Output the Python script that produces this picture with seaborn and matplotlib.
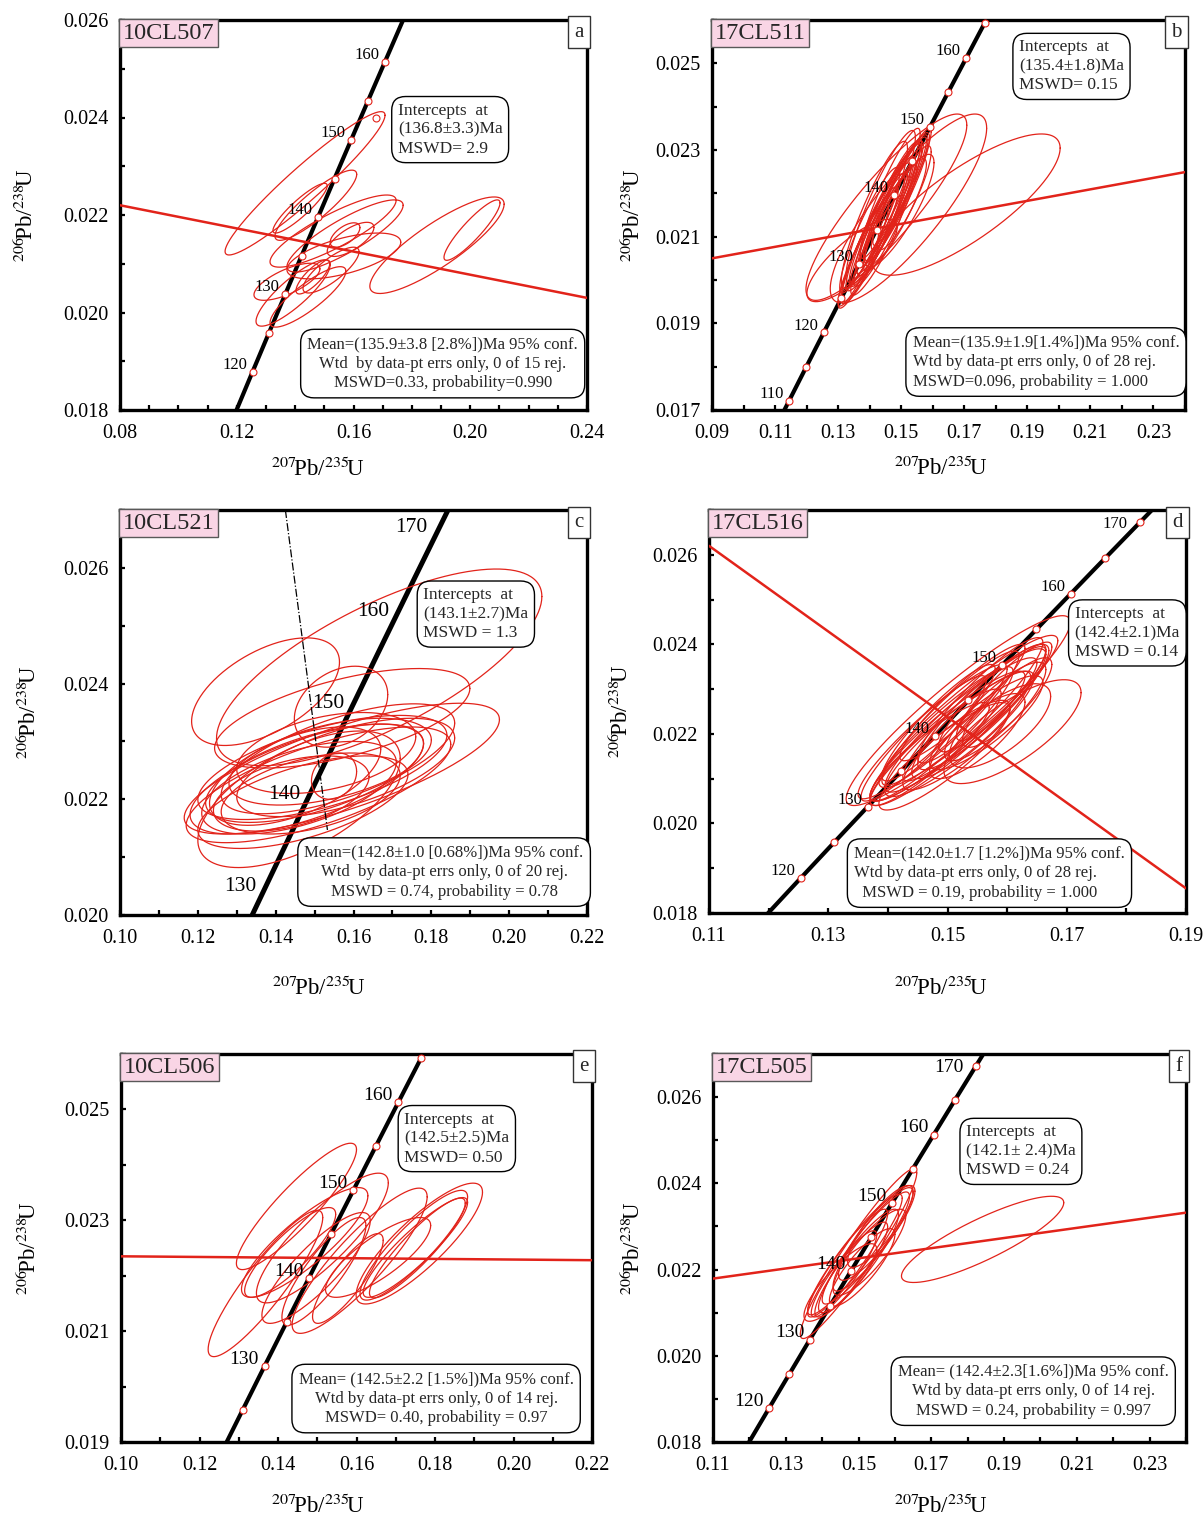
import numpy as np
import matplotlib
matplotlib.use("Agg")
import matplotlib.pyplot as plt
import seaborn as sns
from matplotlib.ticker import MultipleLocator, FixedLocator, FormatStrFormatter

sns.set_theme(style="ticks")
plt.rcParams['font.family'] = ['Liberation Serif', 'DejaVu Serif']
plt.rcParams['mathtext.fontset'] = 'stix'

RED = '#e2231a'
PINK = '#f9d5e5'

# decay constants (1/yr) for the concordia curve
L238 = 1.55125e-10
L235 = 9.8485e-10

# ---------------- data ----------------
SAMPLES = ['10CL507', '17CL511', '10CL521', '17CL516', '10CL506', '17CL505']
LETTERS = ['a', 'b', 'c', 'd', 'e', 'f']

XLIM = [(0.08, 0.24), (0.09, 0.24), (0.10, 0.22), (0.11, 0.19), (0.10, 0.22), (0.11, 0.24)]
YLIM = [(0.018, 0.026), (0.017, 0.026), (0.020, 0.027), (0.018, 0.027), (0.019, 0.026), (0.018, 0.027)]
XTICKS = [[0.08, 0.12, 0.16, 0.20, 0.24],
          [0.09, 0.11, 0.13, 0.15, 0.17, 0.19, 0.21, 0.23],
          [0.10, 0.12, 0.14, 0.16, 0.18, 0.20, 0.22],
          [0.11, 0.13, 0.15, 0.17, 0.19],
          [0.10, 0.12, 0.14, 0.16, 0.18, 0.20, 0.22],
          [0.11, 0.13, 0.15, 0.17, 0.19, 0.21, 0.23]]
YTICKS = [[0.018, 0.020, 0.022, 0.024, 0.026],
          [0.017, 0.019, 0.021, 0.023, 0.025],
          [0.020, 0.022, 0.024, 0.026],
          [0.018, 0.020, 0.022, 0.024, 0.026],
          [0.019, 0.021, 0.023, 0.025],
          [0.018, 0.020, 0.022, 0.024, 0.026]]

# concordia tick ages (Ma): circles and labels
MARK_AGES = [list(range(120, 161, 5)), list(range(110, 166, 5)), [],
             list(range(120, 171, 5)), list(range(125, 166, 5)), list(range(120, 171, 5))]
LABEL_AGES = [[120, 130, 140, 150, 160], [110, 120, 130, 140, 150, 160],
              [130, 140, 150, 160, 170], [120, 130, 140, 150, 160, 170],
              [130, 140, 150, 160], [120, 130, 140, 150, 160, 170]]

# discordia / regression lines (None = not drawn)
REG_X = [[0.08, 0.24], [0.09, 0.24], None, [0.11, 0.19], [0.10, 0.22], [0.11, 0.24]]
REG_Y = [[0.0222, 0.0203], [0.0205, 0.02249], None, [0.0262, 0.01855], [0.02235, 0.02228], [0.02179, 0.02332]]

# dash-dot line in panel c
DASH_C_X = [0.1425, 0.1533]
DASH_C_Y = [0.0270, 0.02147]

# error ellipses: (x centre, y centre, x half-extent, y half-extent, correlation)
ELL_A = [(0.1434, 0.02265, 0.0274, 0.00147, 0.95), (0.1417, 0.02214, 0.0093, 0.00051, 0.90),
         (0.1471, 0.02220, 0.0140, 0.00072, 0.88), (0.1530, 0.02167, 0.0216, 0.00074, 0.85),
         (0.1571, 0.02157, 0.0199, 0.00074, 0.85), (0.1567, 0.02116, 0.0195, 0.00047, 0.60),
         (0.1571, 0.02159, 0.0051, 0.00025, 0.60), (0.1590, 0.02150, 0.0080, 0.00035, 0.70),
         (0.1393, 0.02040, 0.0127, 0.00068, 0.85), (0.1372, 0.02063, 0.0113, 0.00038, 0.70),
         (0.1444, 0.02032, 0.0130, 0.00062, 0.85), (0.1461, 0.02073, 0.0058, 0.00035, 0.80),
         (0.1523, 0.02087, 0.0096, 0.00047, 0.80), (0.1886, 0.02138, 0.0230, 0.00099, 0.85),
         (0.2006, 0.02169, 0.0096, 0.00062, 0.90)]
ELL_B = [(0.1706, 0.02174, 0.0298, 0.00163, 0.80), (0.1453, 0.02168, 0.0255, 0.00215, 0.88),
         (0.1523, 0.02165, 0.0248, 0.00218, 0.85), (0.1344, 0.02045, 0.0143, 0.00095, 0.80),
         (0.1494, 0.02160, 0.0110, 0.00130, 0.85),
         (0.1380, 0.02060, 0.0080, 0.00120, 0.92), (0.1395, 0.02075, 0.0095, 0.00140, 0.93),
         (0.1410, 0.02095, 0.0100, 0.00150, 0.92), (0.1420, 0.02110, 0.0110, 0.00160, 0.93),
         (0.1430, 0.02120, 0.0090, 0.00130, 0.94), (0.1440, 0.02135, 0.0105, 0.00150, 0.92),
         (0.1445, 0.02145, 0.0120, 0.00170, 0.93), (0.1455, 0.02155, 0.0085, 0.00125, 0.94),
         (0.1460, 0.02165, 0.0100, 0.00155, 0.92), (0.1470, 0.02175, 0.0115, 0.00160, 0.93),
         (0.1475, 0.02185, 0.0090, 0.00140, 0.95), (0.1485, 0.02190, 0.0105, 0.00150, 0.92),
         (0.1490, 0.02200, 0.0080, 0.00120, 0.93), (0.1500, 0.02210, 0.0095, 0.00140, 0.94),
         (0.1505, 0.02220, 0.0075, 0.00110, 0.92), (0.1415, 0.02150, 0.0105, 0.00170, 0.90),
         (0.1435, 0.02170, 0.0110, 0.00175, 0.91), (0.1450, 0.02125, 0.0100, 0.00140, 0.93),
         (0.1400, 0.02115, 0.0095, 0.00145, 0.91), (0.1465, 0.02200, 0.0095, 0.00150, 0.92),
         (0.1480, 0.02150, 0.0100, 0.00130, 0.90), (0.1425, 0.02080, 0.0085, 0.00115, 0.90),
         (0.1510, 0.02190, 0.0085, 0.00120, 0.88)]
ELL_C = [(0.1666, 0.02428, 0.0418, 0.00170, 0.72), (0.1374, 0.02386, 0.0190, 0.00093, 0.55),
         (0.1568, 0.02360, 0.0120, 0.00070, 0.30), (0.1571, 0.02340, 0.0328, 0.00086, 0.60),
         (0.1570, 0.02253, 0.0405, 0.00113, 0.75), (0.1460, 0.02200, 0.0260, 0.00118, 0.60),
         (0.1550, 0.02240, 0.0058, 0.00040, 0.20),
         (0.1480, 0.02235, 0.0300, 0.00095, 0.65), (0.1500, 0.02245, 0.0280, 0.00085, 0.60),
         (0.1520, 0.02255, 0.0320, 0.00090, 0.62), (0.1460, 0.02220, 0.0250, 0.00080, 0.55),
         (0.1540, 0.02265, 0.0260, 0.00075, 0.50), (0.1490, 0.02210, 0.0230, 0.00070, 0.45),
         (0.1450, 0.02240, 0.0220, 0.00085, 0.55), (0.1560, 0.02270, 0.0300, 0.00095, 0.65),
         (0.1510, 0.02225, 0.0340, 0.00100, 0.70), (0.1470, 0.02195, 0.0270, 0.00080, 0.60),
         (0.1530, 0.02280, 0.0230, 0.00070, 0.40), (0.1440, 0.02210, 0.0200, 0.00065, 0.45),
         (0.1580, 0.02255, 0.0280, 0.00085, 0.60)]
ELL_D = [(0.1518, 0.02252, 0.0188, 0.00212, 0.93), (0.1609, 0.02205, 0.0115, 0.00116, 0.75),
         (0.1588, 0.02218, 0.0085, 0.00094, 0.70),
         (0.1480, 0.02170, 0.0110, 0.00130, 0.92), (0.1500, 0.02190, 0.0130, 0.00150, 0.92),
         (0.1510, 0.02210, 0.0140, 0.00160, 0.93), (0.1530, 0.02230, 0.0135, 0.00160, 0.92),
         (0.1545, 0.02245, 0.0120, 0.00150, 0.93), (0.1560, 0.02260, 0.0110, 0.00140, 0.90),
         (0.1470, 0.02160, 0.0100, 0.00110, 0.90), (0.1490, 0.02200, 0.0120, 0.00150, 0.93),
         (0.1520, 0.02200, 0.0125, 0.00140, 0.90), (0.1540, 0.02220, 0.0100, 0.00120, 0.88),
         (0.1555, 0.02275, 0.0105, 0.00140, 0.92), (0.1575, 0.02280, 0.0090, 0.00120, 0.90),
         (0.1505, 0.02235, 0.0115, 0.00150, 0.93), (0.1460, 0.02190, 0.0105, 0.00140, 0.93),
         (0.1535, 0.02250, 0.0150, 0.00170, 0.93), (0.1580, 0.02250, 0.0085, 0.00110, 0.85),
         (0.1565, 0.02225, 0.0095, 0.00105, 0.85), (0.1495, 0.02150, 0.0110, 0.00120, 0.88),
         (0.1525, 0.02270, 0.0105, 0.00130, 0.93), (0.1485, 0.02225, 0.0095, 0.00130, 0.92),
         (0.1595, 0.02295, 0.0080, 0.00110, 0.90), (0.1550, 0.02195, 0.0080, 0.00095, 0.80),
         (0.1515, 0.02175, 0.0090, 0.00100, 0.85), (0.1600, 0.02270, 0.0075, 0.00100, 0.85),
         (0.1475, 0.02205, 0.0125, 0.00150, 0.93)]
ELL_E = [(0.1447, 0.02325, 0.0153, 0.00114, 0.90), (0.1368, 0.02186, 0.0146, 0.00132, 0.90),
         (0.1468, 0.02260, 0.0161, 0.00099, 0.85), (0.1513, 0.02268, 0.0168, 0.00117, 0.85),
         (0.1497, 0.02214, 0.0138, 0.00100, 0.85), (0.1608, 0.02227, 0.0172, 0.00131, 0.88),
         (0.1578, 0.02195, 0.0090, 0.00081, 0.85), (0.1517, 0.02208, 0.0107, 0.00097, 0.85),
         (0.1760, 0.02258, 0.0161, 0.00109, 0.85), (0.1746, 0.02255, 0.0137, 0.00099, 0.88),
         (0.1750, 0.02251, 0.0133, 0.00090, 0.90), (0.1755, 0.02250, 0.0122, 0.00090, 0.90),
         (0.1655, 0.02233, 0.0134, 0.00072, 0.80), (0.1431, 0.02242, 0.0116, 0.00081, 0.85)]
ELL_F = [(0.1500, 0.02237, 0.0160, 0.00197, 0.95), (0.1841, 0.02270, 0.0223, 0.00100, 0.85),
         (0.1480, 0.02200, 0.0100, 0.00110, 0.90), (0.1500, 0.02220, 0.0110, 0.00120, 0.90),
         (0.1520, 0.02250, 0.0120, 0.00130, 0.92), (0.1540, 0.02270, 0.0110, 0.00120, 0.90),
         (0.1550, 0.02285, 0.0105, 0.00110, 0.88), (0.1460, 0.02190, 0.0090, 0.00100, 0.90),
         (0.1450, 0.02170, 0.0100, 0.00090, 0.85), (0.1490, 0.02235, 0.0130, 0.00140, 0.93),
         (0.1530, 0.02240, 0.0100, 0.00100, 0.85), (0.1560, 0.02300, 0.0090, 0.00095, 0.85),
         (0.1470, 0.02215, 0.0110, 0.00125, 0.92), (0.1510, 0.02205, 0.0090, 0.00090, 0.85)]
ELLIPSES = [ELL_A, ELL_B, ELL_C, ELL_D, ELL_E, ELL_F]

INTERCEPT_TXT = ['Intercepts  at\n(136.8±3.3)Ma\nMSWD= 2.9',
                 'Intercepts  at\n(135.4±1.8)Ma\nMSWD= 0.15',
                 'Intercepts  at\n(143.1±2.7)Ma\nMSWD = 1.3',
                 'Intercepts  at\n(142.4±2.1)Ma\nMSWD = 0.14',
                 'Intercepts  at\n(142.5±2.5)Ma\nMSWD= 0.50',
                 'Intercepts  at\n(142.1± 2.4)Ma\nMSWD = 0.24']
MEAN_TXT = ['Mean=(135.9±3.8 [2.8%])Ma 95% conf.\nWtd  by data-pt errs only, 0 of 15 rej.\nMSWD=0.33, probability=0.990',
            'Mean=(135.9±1.9[1.4%])Ma 95% conf.\nWtd by data-pt errs only, 0 of 28 rej.\nMSWD=0.096, probability = 1.000',
            'Mean=(142.8±1.0 [0.68%])Ma 95% conf.\nWtd  by data-pt errs only, 0 of 20 rej.\nMSWD = 0.74, probability = 0.78',
            'Mean=(142.0±1.7 [1.2%])Ma 95% conf.\nWtd by data-pt errs only, 0 of 28 rej.\n  MSWD = 0.19, probability = 1.000',
            'Mean= (142.5±2.2 [1.5%])Ma 95% conf.\nWtd by data-pt errs only, 0 of 14 rej.\nMSWD= 0.40, probability = 0.97',
            'Mean= (142.4±2.3[1.6%])Ma 95% conf.\nWtd by data-pt errs only, 0 of 14 rej.\nMSWD = 0.24, probability = 0.997']
MEAN_ALIGN = ['center', 'left', 'center', 'left', 'center', 'center']

# ---------------- layout (figure pixels -> fractions) ----------------
W, H = 1204, 1517
AX_PX = [(120, 20, 587, 410), (712, 20, 1185, 410), (120, 510, 587, 915),
         (709, 510, 1186, 913), (121, 1054, 592, 1442), (713, 1054, 1186, 1442)]
INT_POS = [(0.707, 0.719), (0.760, 0.881), (0.762, 0.743), (0.877, 0.695), (0.713, 0.782), (0.651, 0.749)]
MEAN_POS = [(0.691, 0.119), (0.706, 0.123), (0.694, 0.106), (0.588, 0.099), (0.669, 0.112), (0.677, 0.131)]
YLAB_X = [-0.175, -0.142, -0.169, -0.159, -0.170, -0.144]
XLAB_POS = [(0.424, -0.120), (0.484, -0.118), (0.426, -0.152), (0.486, -0.157), (0.418, -0.135), (0.482, -0.135)]
AGE_FS = [12, 12, 15.5, 12, 14, 14]
TOP_SHIFT = [False, False, True, True, False, True]   # top age label sits level with its tick


def concordia(age_ma):
    t = np.asarray(age_ma, float) * 1e6
    return np.exp(L235 * t) - 1, np.exp(L238 * t) - 1


def ellipse(cx, cy, sx, sy, rho, n=240):
    t = np.linspace(0, 2 * np.pi, n)
    x = cx + sx * np.cos(t)
    y = cy + sy * (rho * np.cos(t) + np.sqrt(1 - rho ** 2) * np.sin(t))
    return x, y


fig = plt.figure(figsize=(W / 100, H / 100), dpi=100)

for i in range(6):
    l, t, r, b = AX_PX[i]
    ax = fig.add_axes([l / W, 1 - b / H, (r - l) / W, (b - t) / H])

    # concordia curve
    cx, cy = concordia(np.linspace(90, 200, 300))
    sns.lineplot(x=cx, y=cy, sort=False, color='black', lw=3.6 if i == 2 else 3.0, ax=ax, zorder=2)

    # error ellipses
    for e in ELLIPSES[i]:
        ex, ey = ellipse(*e)
        ax.plot(ex, ey, color=RED, lw=0.9, zorder=3)

    # discordia line
    if REG_X[i] is not None:
        sns.lineplot(x=REG_X[i], y=REG_Y[i], color=RED, lw=1.8, ax=ax, zorder=4)

    if i == 2:
        ax.plot(DASH_C_X, DASH_C_Y, color='black', lw=0.9, ls='-.', zorder=4)

    # age markers and labels
    if MARK_AGES[i]:
        mx, my = concordia(MARK_AGES[i])
        ax.plot(mx, my, 'o', ms=5, mfc='white', mec=RED, mew=0.8, zorder=5, clip_on=False)
    if i == 0:
        ax.plot([0.1677], [0.0240], 'o', ms=5, mfc='white', mec=RED, mew=0.8, zorder=5)
    lx, ly = concordia(LABEL_AGES[i])
    n_lab = len(LABEL_AGES[i])
    for k, (age, x0, y0) in enumerate(zip(LABEL_AGES[i], lx, ly)):
        off = (-9, -1) if (TOP_SHIFT[i] and k == n_lab - 1) else (-4, 5)
        ax.annotate(str(age), (x0, y0), xytext=off, textcoords='offset points',
                    ha='right', va='center', fontsize=AGE_FS[i], color='black', zorder=6)

    ax.set_xlim(*XLIM[i])
    ax.set_ylim(*YLIM[i])
    ax.xaxis.set_major_locator(FixedLocator(XTICKS[i]))
    ax.yaxis.set_major_locator(FixedLocator(YTICKS[i]))
    ax.xaxis.set_minor_locator(MultipleLocator(0.01))
    ax.yaxis.set_minor_locator(MultipleLocator(0.001))
    ax.xaxis.set_major_formatter(FormatStrFormatter('%.2f'))
    ax.yaxis.set_major_formatter(FormatStrFormatter('%.3f'))
    ax.tick_params(which='both', direction='in', length=3.5, width=1.6, color='black',
                   labelsize=14.5, labelcolor='black')
    ax.tick_params(axis='x', pad=10)
    ax.tick_params(axis='y', pad=8)
    for s in ax.spines.values():
        s.set_linewidth(2.4)
        s.set_color('black')
        s.set_visible(True)

    ax.set_xlabel(r'$^{207}\!$Pb/$^{235}\!$U', fontsize=16.5, color='black')
    ax.set_ylabel(r'$^{206}\!$Pb/$^{238}\!$U', fontsize=16.5, color='black')
    ax.xaxis.set_label_coords(*XLAB_POS[i])
    ax.yaxis.set_label_coords(YLAB_X[i], 0.5)

    # sample name and panel letter
    ax.text(0.006, 0.993, SAMPLES[i], transform=ax.transAxes, ha='left', va='top', fontsize=17.5,
            zorder=7, bbox=dict(boxstyle='square,pad=0.15', fc=PINK, ec='0.35', lw=1.0))
    ax.text(0.993, 0.993, LETTERS[i], transform=ax.transAxes, ha='right', va='top', fontsize=15,
            zorder=7, bbox=dict(boxstyle='square,pad=0.3', fc='white', ec='0.2', lw=1.0))

    # result boxes
    ax.text(*INT_POS[i], INTERCEPT_TXT[i], transform=ax.transAxes, ha='center', va='center',
            multialignment='left', fontsize=12.5, linespacing=1.25, zorder=7,
            bbox=dict(boxstyle='round,pad=0.35,rounding_size=0.8', fc='white', ec='black', lw=1.0))
    ax.text(*MEAN_POS[i], MEAN_TXT[i], transform=ax.transAxes, ha='center', va='center',
            multialignment=MEAN_ALIGN[i], fontsize=12, linespacing=1.3, zorder=7,
            bbox=dict(boxstyle='round,pad=0.4,rounding_size=0.8', fc='white', ec='black', lw=1.0))

fig.savefig('out.png', dpi=100, facecolor='white')
